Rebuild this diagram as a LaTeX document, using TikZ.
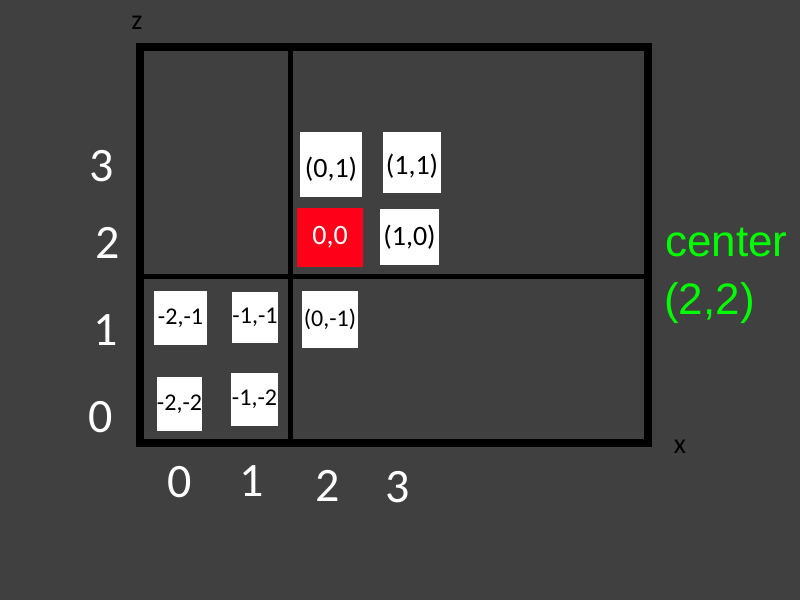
\documentclass[tikz,border=0pt]{standalone}
\usepackage{fontspec}
\setmainfont{Carlito}
\newfontfamily\arialfont{Liberation Sans}
\definecolor{bgdark}{HTML}{404040}
\definecolor{cellred}{RGB}{255,0,25}
\definecolor{brightgreen}{RGB}{0,255,0}

\begin{document}
\begin{tikzpicture}[x=1pt, y=-1pt,
    cell/.style={fill=white, inner sep=0pt, font=\fontsize{28}{34}\selectfont},
    smallcell/.style={cell, font=\fontsize{24}{29}\selectfont},
    coordlbl/.style={text=white, inner sep=0pt, font=\fontsize{48}{58}\selectfont},
    axislbl/.style={text=black, inner sep=0pt, anchor=base, font=\fontsize{28}{34}\selectfont},
    centerlbl/.style={text=brightgreen, inner sep=0pt, anchor=base west, font=\arialfont\fontsize{44}{52}\selectfont}]

    \fill[bgdark] (0,0) rectangle (800,600);
    \useasboundingbox (0,0) rectangle (800,600);

    % frame and quadrants
    \coordinate (nw) at (140,47);
    \coordinate (se) at (648,443);
    \coordinate (vtop) at (290,47);
    \coordinate (vbot) at (290,443);
    \coordinate (hleft) at (140,276.5);
    \coordinate (hright) at (648,276.5);
    \draw [line width=8pt] (nw) rectangle (se);
    \draw [line width=5pt] (vtop) -- (vbot);
    \draw [line width=5pt] (hleft) -- (hright);

    % cells
    \node [cell, minimum width=62pt, minimum height=65pt] (c01) at (331,164.5) {\raisebox{-5pt}[\height][\depth]{(0,1)}};
    \node [cell, minimum width=58pt, minimum height=61pt] (c11) at (412,162.5) {\raisebox{-4pt}[\height][\depth]{(1,1)}};
    \node [cell, fill=cellred, text=white, minimum width=66pt, minimum height=59pt] (c00) at (330,237.5) {0,0};
    \node [cell, minimum width=59pt, minimum height=56pt] (c10) at (409.5,237) {(1,0)};
    \node [smallcell, minimum width=53pt, minimum height=54pt] (cm2m1) at (180.5,318) {-2,-1};
    \node [smallcell, minimum width=46pt, minimum height=51pt] (cm1m1) at (255,317.5) {-1,-1};
    \node [smallcell, minimum width=56pt, minimum height=57pt] (c0m1) at (330,319.5) {(0,-1)};
    \node [smallcell, minimum width=45pt, minimum height=54pt] (cm2m2) at (179.5,404) {-2,-2};
    \node [smallcell, minimum width=47pt, minimum height=53pt] (cm1m2) at (254.5,399.5) {-1,-2};

    % axis numbers
    \node [coordlbl] (z3) at (102,166) {3};
    \node [coordlbl] (z2) at (108,243) {2};
    \node [coordlbl] (z1) at (106,330) {1};
    \node [coordlbl] (z0) at (101,417) {0};
    \node [coordlbl] (x0) at (180,482) {0};
    \node [coordlbl] (x1) at (252,481) {1};
    \node [coordlbl] (x2) at (328,486) {2};
    \node [coordlbl] (x3) at (398,487) {3};

    % axis names
    \node [axislbl] (zname) at (137,29) {z};
    \node [axislbl] (xname) at (680,453) {x};

    % center
    \node [centerlbl] (ctr) at (665,256) {center};
    \node [centerlbl] (ctrval) at (664,314) {(2,2)};

\end{tikzpicture}
\end{document}
